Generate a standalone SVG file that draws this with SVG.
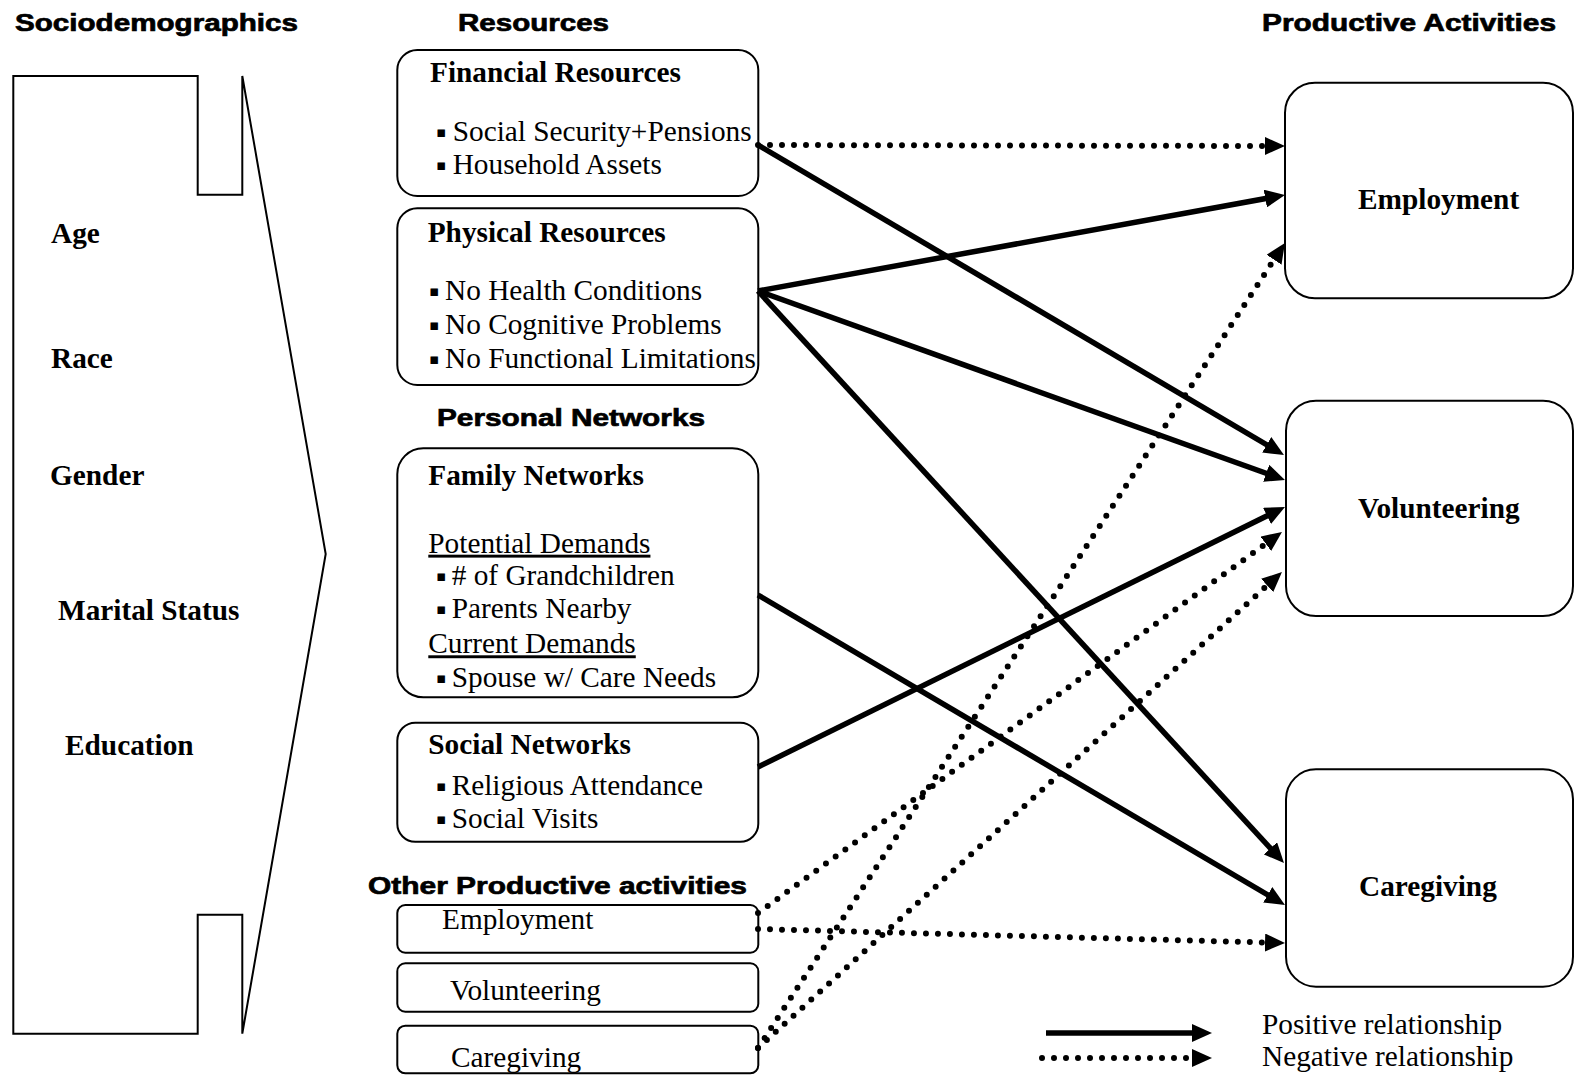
<svg xmlns="http://www.w3.org/2000/svg" width="1574" height="1079" viewBox="0 0 1574 1079">
<style>
.hd{font-family:"Liberation Sans",Arial,sans-serif;font-weight:bold;font-size:24px;fill:#000;stroke:#000;stroke-width:0.7}
.t{font-family:"Liberation Serif","Times New Roman",serif;font-size:29.3px;fill:#000}
.b{font-family:"Liberation Serif","Times New Roman",serif;font-size:29.3px;font-weight:bold;fill:#000}
.bul{font-family:"DejaVu Sans",sans-serif;font-size:15px}
.box{fill:#fff;stroke:#000;stroke-width:2}
.pos{stroke:#000;stroke-width:5.5;fill:none}
.neg{stroke:#000;stroke-width:6;fill:none;stroke-dasharray:0 12;stroke-linecap:round}
</style>
<defs>
<marker id="ah" markerUnits="userSpaceOnUse" markerWidth="20" markerHeight="18" refX="11" refY="9" orient="auto">
<path d="M0,0 L20,9 L0,18 z" fill="#000"/>
</marker>
</defs>
<rect width="1574" height="1079" fill="#fff"/>

<g id="headings">
<text class="hd" x="15" y="31" textLength="283" lengthAdjust="spacingAndGlyphs">Sociodemographics</text>
<text class="hd" x="458" y="31" textLength="151" lengthAdjust="spacingAndGlyphs">Resources</text>
<text class="hd" x="1262" y="31" textLength="294" lengthAdjust="spacingAndGlyphs">Productive Activities</text>
<text class="hd" x="437" y="426" textLength="268" lengthAdjust="spacingAndGlyphs">Personal Networks</text>
<text class="hd" x="368" y="894" textLength="379" lengthAdjust="spacingAndGlyphs">Other Productive activities</text>
</g>

<g id="sociodemographics">
<path d="M13.3,76 L197.7,76 L197.7,194.7 L242.3,194.7 L242.3,76 L325.7,554 L242.3,1033.7 L242.3,914.7 L197.7,914.7 L197.7,1033.7 L13.3,1033.7 Z" fill="none" stroke="#000" stroke-width="2"/>
<text class="b" x="51" y="243">Age</text>
<text class="b" x="51" y="368">Race</text>
<text class="b" x="50" y="485">Gender</text>
<text class="b" x="58" y="620">Marital Status</text>
<text class="b" x="65" y="755">Education</text>
</g>

<g id="financial">
<rect class="box" x="397.3" y="50" width="361" height="146" rx="20"/>
<text class="b" x="430" y="82">Financial Resources</text>
<text class="t" y="141"><tspan class="bul" x="436" dy="-4">▪</tspan><tspan x="452.7" dy="4">Social Security+Pensions</tspan></text>
<text class="t" y="174"><tspan class="bul" x="436" dy="-4">▪</tspan><tspan x="452.7" dy="4">Household Assets</tspan></text>
</g>

<g id="physical">
<rect class="box" x="397.3" y="208.3" width="361" height="176.7" rx="20"/>
<text class="b" x="427.7" y="242">Physical Resources</text>
<text class="t" y="300"><tspan class="bul" x="429" dy="-4">▪</tspan><tspan x="445" dy="4">No Health Conditions</tspan></text>
<text class="t" y="334"><tspan class="bul" x="429" dy="-4">▪</tspan><tspan x="445" dy="4">No Cognitive Problems</tspan></text>
<text class="t" y="368"><tspan class="bul" x="429" dy="-4">▪</tspan><tspan x="445" dy="4">No Functional Limitations</tspan></text>
</g>

<g id="family">
<rect class="box" x="397.3" y="448.3" width="361" height="249" rx="26"/>
<text class="b" x="428.3" y="485">Family Networks</text>
<text class="t" x="428.3" y="552.7" text-decoration="underline">Potential Demands</text>
<text class="t" y="585"><tspan class="bul" x="436" dy="-4">▪</tspan><tspan x="451.7" dy="4"># of Grandchildren</tspan></text>
<text class="t" y="618.3"><tspan class="bul" x="436" dy="-4">▪</tspan><tspan x="451.7" dy="4">Parents Nearby</tspan></text>
<text class="t" x="428.3" y="653.3" text-decoration="underline">Current Demands</text>
<text class="t" y="686.7"><tspan class="bul" x="436" dy="-4">▪</tspan><tspan x="451.7" dy="4">Spouse w/ Care Needs</tspan></text>
</g>

<g id="social">
<rect class="box" x="397.3" y="722.7" width="361" height="119" rx="18"/>
<text class="b" x="428.3" y="754">Social Networks</text>
<text class="t" y="795"><tspan class="bul" x="436" dy="-4">▪</tspan><tspan x="451.7" dy="4">Religious Attendance</tspan></text>
<text class="t" y="828.3"><tspan class="bul" x="436" dy="-4">▪</tspan><tspan x="451.7" dy="4">Social Visits</tspan></text>
</g>

<g id="other-employment">
<rect class="box" x="397.3" y="905" width="361" height="47.7" rx="8"/>
<text class="t" x="442" y="929">Employment</text>
</g>
<g id="other-volunteering">
<rect class="box" x="397.3" y="963.3" width="361" height="48.4" rx="8"/>
<text class="t" x="450" y="1000">Volunteering</text>
</g>
<g id="other-caregiving">
<rect class="box" x="397.3" y="1025.7" width="361" height="47.6" rx="8"/>
<text class="t" x="451" y="1067">Caregiving</text>
</g>

<g id="employment">
<rect class="box" x="1285" y="82.7" width="288" height="215.6" rx="30"/>
<text class="b" x="1358" y="209">Employment</text>
</g>
<g id="volunteering">
<rect class="box" x="1286" y="400.7" width="287" height="215.3" rx="30"/>
<text class="b" x="1358" y="518">Volunteering</text>
</g>
<g id="caregiving">
<rect class="box" x="1286" y="769.3" width="287" height="217.4" rx="30"/>
<text class="b" x="1359" y="896">Caregiving</text>
</g>

<g id="connectors">
<line class="pos" x1="758" y1="145" x2="1276.2" y2="450.4" marker-end="url(#ah)"/>
<line class="pos" x1="758" y1="291" x2="1276.1" y2="196.6" marker-end="url(#ah)"/>
<line class="pos" x1="758" y1="291" x2="1276.5" y2="477" marker-end="url(#ah)"/>
<line class="pos" x1="758" y1="291" x2="1277.9" y2="856.4" marker-end="url(#ah)"/>
<line class="pos" x1="758" y1="595" x2="1277.2" y2="900.4" marker-end="url(#ah)"/>
<line class="pos" x1="758" y1="767" x2="1276.9" y2="511" marker-end="url(#ah)"/>
<line class="neg" x1="758" y1="145" x2="1276" y2="146" marker-end="url(#ah)"/>
<line class="neg" x1="758" y1="913" x2="1274.7" y2="537.3" marker-end="url(#ah)"/>
<line class="neg" x1="758" y1="1048" x2="1275.3" y2="578.1" marker-end="url(#ah)"/>
<line class="neg" x1="758" y1="1048" x2="1280" y2="250.5" marker-end="url(#ah)"/>
<line class="neg" x1="758" y1="929" x2="1276" y2="942.8" marker-end="url(#ah)"/>
</g>

<g id="legend">
<line class="pos" x1="1046" y1="1033" x2="1203" y2="1033" marker-end="url(#ah)"/>
<line class="neg" x1="1042" y1="1058" x2="1203" y2="1058" marker-end="url(#ah)"/>
<text class="t" x="1262" y="1034">Positive relationship</text>
<text class="t" x="1262" y="1066">Negative relationship</text>
</g>
</svg>
